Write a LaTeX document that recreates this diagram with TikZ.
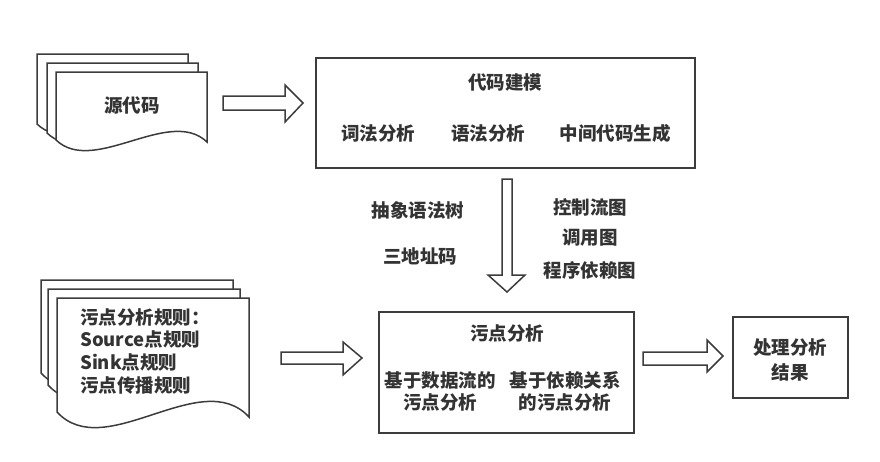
\documentclass[tikz,border=0pt]{standalone}
\usepackage{fontspec}
\setmainfont{Noto Sans CJK SC}
\definecolor{linec}{HTML}{3C3C3C}
\definecolor{textc}{HTML}{333333}
\newcommand\docpage[6]{% x1, ytop, x2, yL, yR, D
  \draw[line, fill=white] (#1,#4) -- (#1,#2) -- (#3,#2) -- (#3,#5)
    .. controls ({#1+0.75*(#3-#1)},{#5-#6}) and ({#1+0.25*(#3-#1)},{#4+#6}) .. (#1,#4) -- cycle;}
\begin{document}
\begin{tikzpicture}[x=1pt,y=-1pt,
  line/.style={draw=linec, line width=1.5pt, line join=miter},
  box/.style={line, fill=white, inner sep=0pt},
  lbl/.style={text=textc, font=\fontsize{18.5}{22}\selectfont\bfseries, inner sep=0pt, align=center},
  barrow/.style={line, fill=white}]
\useasboundingbox (0,0) rectangle (880,461);

% source code stack
\docpage{37}{54}{188}{124}{126}{36}
\docpage{47}{63}{198}{133}{135}{36}
\docpage{56}{72}{207}{140}{142}{36}
\node[lbl] (src) at (132,105) {源代码};

% rules stack
\docpage{41}{280}{233}{373}{377}{52}
\docpage{48}{289}{240}{385}{389}{52}
\docpage{57}{298}{249}{412}{417}{52}
\node[lbl, anchor=west] (r1) at (80,317) {污点分析规则：};
\node[lbl, anchor=west] (r2) at (80,339) {Source点规则};
\node[lbl, anchor=west] (r3) at (80,362) {Sink点规则};
\node[lbl, anchor=west] (r4) at (80,385) {污点传播规则};

% code modelling box
\node[box, minimum width=379pt, minimum height=110pt] (code) at (505.5,113) {};
\node[lbl] (cm) at (505,82) {代码建模};
\node[lbl] (lex) at (378,133) {词法分析};
\node[lbl] (syn) at (488,133) {语法分析};
\node[lbl] (ir) at (615,133) {中间代码生成};

% labels beside down arrow
\node[lbl] (ast) at (418,210) {抽象语法树};
\node[lbl] (tac) at (420,256) {三地址码};
\node[lbl] (cfg) at (590,207) {控制流图};
\node[lbl] (cg) at (590,238) {调用图};
\node[lbl] (pdg) at (590,270) {程序依赖图};

% taint analysis box
\node[box, minimum width=255pt, minimum height=121pt] (taint) at (506.5,372.5) {};
\node[lbl] (ta) at (507,333) {污点分析};
\node[lbl] (df) at (440,391) {基于数据流的\\污点分析};
\node[lbl] (dep) at (565,391) {基于依赖关系\\的污点分析};

% result box
\node[box, minimum width=115pt, minimum height=81pt] (res) at (790.5,357.5) {};
\node[lbl, font=\fontsize{18.5}{25}\selectfont\bfseries] (rt) at (790,359.5) {处理分析\\结果};

% block arrows
\draw[barrow] (223,96) -- (285,96) -- (285,85) -- (303,103) -- (285,122) -- (285,110) -- (223,110) -- cycle;
\draw[barrow] (502,179) -- (512,179) -- (512,275) -- (525,275) -- (507,292) -- (488,275) -- (502,275) -- cycle;
\draw[barrow] (281,352) -- (343,352) -- (343,342) -- (362,358) -- (343,375) -- (343,364) -- (281,364) -- cycle;
\draw[barrow] (643,352) -- (707,352) -- (707,340) -- (723,356) -- (707,372) -- (707,365) -- (643,365) -- cycle;
\end{tikzpicture}
\end{document}
